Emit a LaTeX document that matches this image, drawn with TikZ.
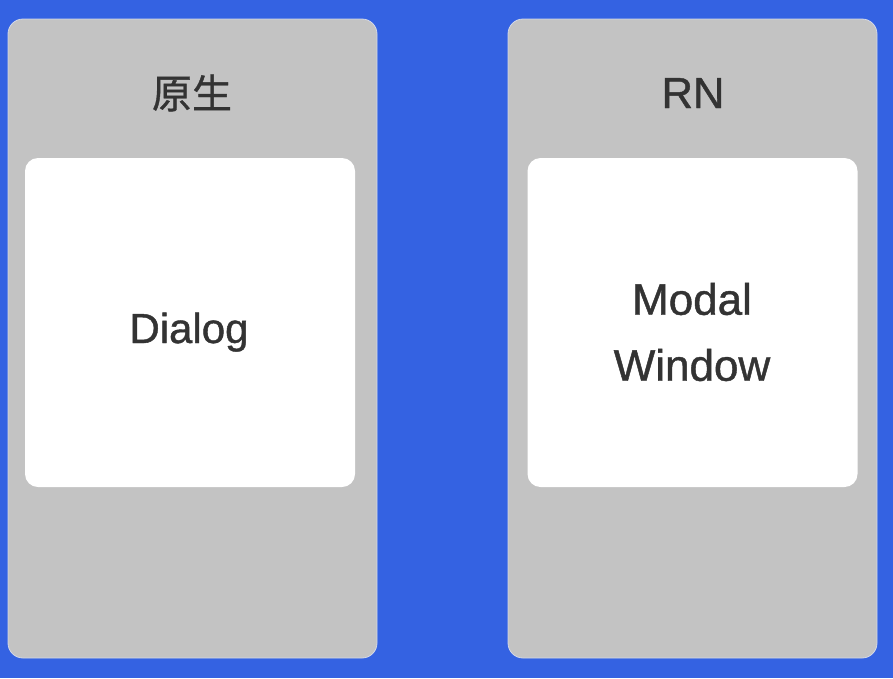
\documentclass[tikz,border=0pt]{standalone}
\usepackage{fontspec}
\setmainfont{Liberation Sans}
\newfontfamily\medfont{Liberation Sans}[FakeBold=1]
\newfontfamily\cjk{Noto Sans CJK SC}[FakeBold=0.9]
\usepackage{color}

\definecolor{bgblue}{RGB}{52,98,226}
\definecolor{panelgray}{RGB}{195,195,195}
\definecolor{paneledge}{RGB}{210,216,232}
\definecolor{textgray}{RGB}{51,51,51}

\tikzset{
    panel/.style={rectangle, rounded corners=15pt, fill=panelgray, draw=paneledge,
        line width=0.8pt, minimum width=369pt, minimum height=639pt,
        inner sep=0pt, outer sep=0pt},
    card/.style={rectangle, rounded corners=13pt, fill=white, draw=none,
        minimum width=330pt, minimum height=329pt, inner sep=0pt, outer sep=0pt},
    title/.style={text=textgray, inner sep=0pt},
    label/.style={text=textgray, inner sep=0pt, align=center,
        font=\medfont\fontsize{42}{65}\selectfont}
}

\begin{document}
\begin{tikzpicture}[x=1pt, y=-1pt]
    % Background
    \fill[bgblue] (0,0) rectangle (893,678);
    \useasboundingbox (0,0) rectangle (893,678);

    % Draw the two panels
    \node[panel] (native) at (192.5,338.5) {};
    \node[panel] (rn) at (692.5,338.5) {};

    % Draw the white cards inside
    \node[card] (dialog) at (190,322.5) {};
    \node[card] (modal) at (692.5,322.5) {};

    % Titles
    \node[title, font=\cjk\fontsize{40}{48}\selectfont] (nativetitle) at (192,93) {原生};
    \node[title, anchor=base, font=\medfont\fontsize{43.5}{50}\selectfont] (rntitle) at (693,108) {RN};

    % Card texts
    \node[label, anchor=base] (dialogtext) at (189,343) {Dialog};
    \node[label, font=\medfont\fontsize{44}{66}\selectfont] (modaltext) at (692,332) {Modal\\Window};
\end{tikzpicture}
\end{document}
